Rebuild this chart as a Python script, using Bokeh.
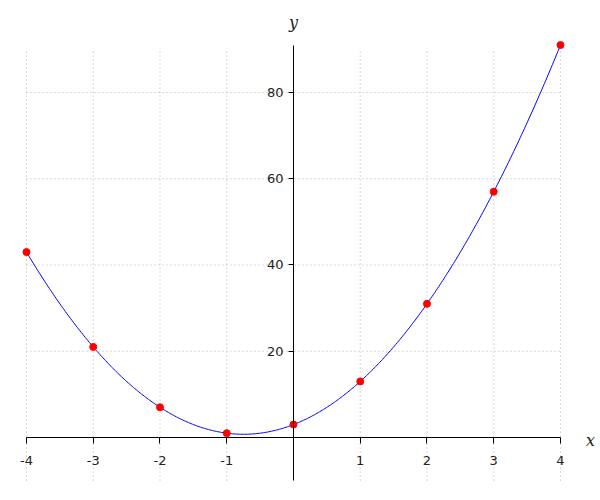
import numpy as np
from bokeh.plotting import figure
from bokeh.models import LinearAxis, FixedTicker, Range1d, Label
from bokeh.embed import file_html
from bokeh.resources import INLINE

# data
x_pts = [-4, -3, -2, -1, 0, 1, 2, 3, 4]
y_pts = [43, 21, 7, 1, 3, 13, 31, 57, 91]
x_ticks = [-4, -3, -2, -1, 1, 2, 3, 4]
y_ticks = [20, 40, 60, 80]
x_grid = [-4, -3, -2, -1, 1, 2, 3, 4]
y_grid = [20, 40, 60, 80]

# smooth fitted curve (quadratic least-squares fit through the points)
coef = np.polyfit(x_pts, y_pts, 2)
xc = np.linspace(min(x_pts), max(x_pts), 400)
yc = np.polyval(coef, xc)

W, H = 600, 500
X0, X1 = -4.3895, 4.5993
Y0, Y1 = -14.609, 101.333

p = figure(width=W, height=H, x_range=Range1d(X0, X1), y_range=Range1d(Y0, Y1),
           output_backend="svg", toolbar_location=None,
           x_axis_type=None, y_axis_type=None, min_border=0,
           outline_line_color=None)
p.grid.visible = False

GX_BOT, GX_TOP = -10, 90.2
# grid lines
p.segment(x0=x_grid, y0=[GX_BOT]*len(x_grid), x1=x_grid, y1=[GX_TOP]*len(x_grid),
          line_color="#b4b4b4", line_width=1, line_dash="1 3")
p.segment(x0=[-4]*len(y_grid), y0=y_grid, x1=[4]*len(y_grid), y1=y_grid,
          line_color="#b4b4b4", line_width=1, line_dash="1 3")

xaxis = LinearAxis(fixed_location=0, bounds=(-4, 4), ticker=FixedTicker(ticks=x_ticks),
                   major_tick_out=6, major_tick_in=0, minor_tick_out=0, minor_tick_in=0,
                   major_label_standoff=13, axis_line_color="black", major_tick_line_color="black",
                   major_label_text_font="DejaVu Sans", major_label_text_font_size="13px",
                   major_label_text_color="#222222",
                   major_label_overrides={t: str(t) for t in x_ticks})
p.add_layout(xaxis, "below")
yaxis = LinearAxis(fixed_location=0, bounds=(-10, 91), ticker=FixedTicker(ticks=y_ticks),
                   major_tick_out=5, major_tick_in=0, minor_tick_out=0, minor_tick_in=0,
                   major_label_standoff=5, axis_line_color="black", major_tick_line_color="black",
                   major_label_text_font="DejaVu Sans", major_label_text_font_size="13px",
                   major_label_text_color="#222222", major_label_orientation="horizontal",
                   major_label_overrides={t: str(t) for t in y_ticks})
p.add_layout(yaxis, "left")

p.line(xc, yc, line_color="blue", line_width=1)
p.scatter(x_pts, y_pts, size=7, fill_color="red", line_color="red")

p.add_layout(Label(x=4.45, y=-0.7, text="x", text_font="DejaVu Serif", text_font_style="italic",
                   text_font_size="16px", text_align="center", text_baseline="middle",
                   text_color="#222222"))
p.add_layout(Label(x=0, y=96.2, text="y", text_font="DejaVu Serif", text_font_style="italic",
                   text_font_size="16px", text_align="center", text_baseline="middle",
                   text_color="#222222"))

open("out.html", "w").write(file_html(p, INLINE))
